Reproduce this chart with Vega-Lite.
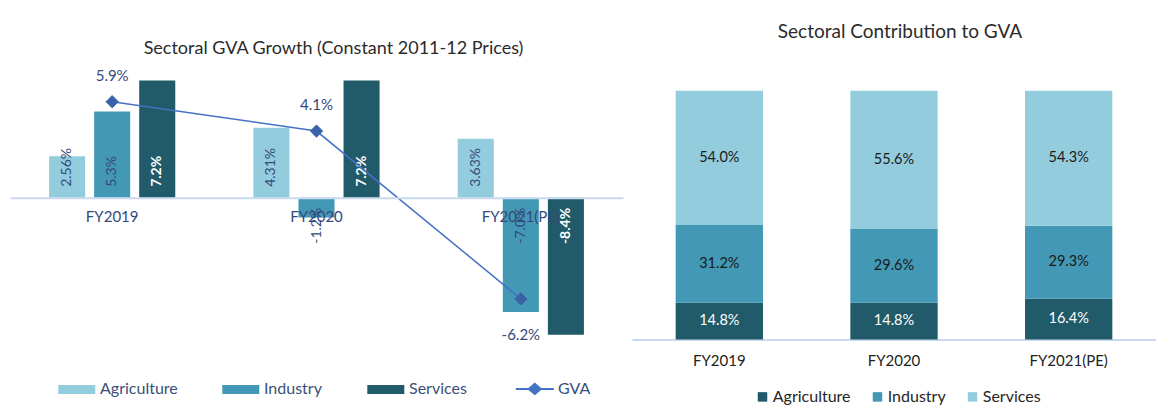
{
  "$schema": "https://vega.github.io/schema/vega-lite/v6.json",
  "padding": {"left": 10, "top": 22.5, "right": 0, "bottom": 0},
  "spacing": 9,
  "config": {
    "font": "Lato",
    "view": {"stroke": null},
    "title": {"font": "Lato", "fontWeight": "normal", "color": "#2b2b2b"}
  },
  "datasets": {
    "growth": [
      {"year": "FY2019", "sector": "Agriculture", "value": 2.56, "label": "2.56%"},
      {"year": "FY2019", "sector": "Industry", "value": 5.3, "label": "5.3%"},
      {"year": "FY2019", "sector": "Services", "value": 7.2, "label": "7.2%"},
      {"year": "FY2020", "sector": "Agriculture", "value": 4.31, "label": "4.31%"},
      {"year": "FY2020", "sector": "Industry", "value": -1.2, "label": "-1.2%"},
      {"year": "FY2020", "sector": "Services", "value": 7.2, "label": "7.2%"},
      {"year": "FY2021(PE)", "sector": "Agriculture", "value": 3.63, "label": "3.63%"},
      {"year": "FY2021(PE)", "sector": "Industry", "value": -7.0, "label": "-7.0%"},
      {"year": "FY2021(PE)", "sector": "Services", "value": -8.4, "label": "-8.4%"}
    ],
    "gva": [
      {"year": "FY2019", "gva": 5.9, "label": "5.9%"},
      {"year": "FY2020", "gva": 4.1, "label": "4.1%"},
      {"year": "FY2021(PE)", "gva": -6.2, "label": "-6.2%"}
    ],
    "share": [
      {"year": "FY2019", "sector": "Agriculture", "share": 14.8, "label": "14.8%"},
      {"year": "FY2019", "sector": "Industry", "share": 31.2, "label": "31.2%"},
      {"year": "FY2019", "sector": "Services", "share": 54.0, "label": "54.0%"},
      {"year": "FY2020", "sector": "Agriculture", "share": 14.8, "label": "14.8%"},
      {"year": "FY2020", "sector": "Industry", "share": 29.6, "label": "29.6%"},
      {"year": "FY2020", "sector": "Services", "share": 55.6, "label": "55.6%"},
      {"year": "FY2021(PE)", "sector": "Agriculture", "share": 16.4, "label": "16.4%"},
      {"year": "FY2021(PE)", "sector": "Industry", "share": 29.3, "label": "29.3%"},
      {"year": "FY2021(PE)", "sector": "Services", "share": 54.3, "label": "54.3%"}
    ]
  },
  "resolve": {
    "scale": {"x": "independent", "y": "independent", "color": "independent"},
    "legend": {"color": "independent"}
  },
  "hconcat": [
    {
      "width": 613,
      "height": 277,
      "title": {
        "text": "Sectoral GVA Growth (Constant 2011-12 Prices)",
        "fontSize": 18,
        "dx": 17,
        "offset": 10
      },
      "encoding": {
        "x": {
          "field": "year",
          "type": "nominal",
          "sort": null,
          "scale": {"paddingInner": 0, "paddingOuter": 0},
          "axis": {
            "title": null,
            "orient": "bottom",
            "offset": -146.65,
            "domainColor": "#C9DAF0",
            "domainWidth": 2,
            "ticks": false,
            "tickSize": 0,
            "labelPadding": 12,
            "labelFontSize": 15,
            "labelColor": "#34497A",
            "labelAngle": 0,
            "zindex": 1
          }
        },
        "y": {"type": "quantitative", "scale": {"domain": [-9, 8], "nice": false, "zero": false}, "axis": null}
      },
      "layer": [
        {
          "data": {"name": "growth"},
          "mark": {"type": "bar"},
          "encoding": {
            "xOffset": {
              "field": "sector",
              "type": "nominal",
              "scale": {"domain": ["Agriculture", "Industry", "Services"], "paddingInner": 0.2, "paddingOuter": 0.867}
            },
            "y": {"field": "value", "type": "quantitative"},
            "color": {
              "field": "sector",
              "type": "nominal",
              "scale": {
                "domain": ["Agriculture", "Industry", "Services", "GVA"],
                "range": ["#93CDDD", "#4398B5", "#215A69", "#4472C4"]
              },
              "legend": {
                "title": null,
                "orient": "none",
                "legendX": 58.8,
                "legendY": 313.4,
                "direction": "horizontal",
                "columns": 4,
                "padding": 0,
                "symbolType": "M-3.7,-0.9H3.7V0.9H-3.7Z",
                "symbolSize": 100,
                "symbolStrokeWidth": 0,
                "labelFont": "Lato",
                "labelFontSize": 16,
                "labelColor": "#3A4F7A",
                "labelOffset": 15.2,
                "columnPadding": 44,
                "encode": {
                  "symbols": {
                    "update": {
                      "shape": {"signal": "datum.value === 'GVA' ? 'M-3.8,0H3.8M-1.2,0L0,-1L1.2,0L0,1Z' : 'M-3.7,-0.9H3.7V0.9H-3.7Z'"},
                      "strokeWidth": {"signal": "datum.value === 'GVA' ? 2 : 0"},
                      "stroke": {"value": "#4472C4"},
                      "fill": {"signal": "datum.value === 'GVA' ? '#3A62A7' : datum.value === 'Agriculture' ? '#93CDDD' : datum.value === 'Industry' ? '#4398B5' : '#215A69'"},
                      "opacity": {"value": 1}
                    }
                  }
                }
              }
            }
          }
        },
        {
          "data": {"name": "growth"},
          "transform": [{"filter": "datum.sector !== 'Services' && datum.value >= 0"}],
          "mark": {"type": "text", "angle": 270, "align": "left", "baseline": "middle", "dx": 11, "fontSize": 14, "color": "#34497A"},
          "encoding": {
            "xOffset": {"field": "sector", "type": "nominal"},
            "y": {"datum": 0, "type": "quantitative"},
            "text": {"field": "label"}
          }
        },
        {
          "data": {"name": "growth"},
          "transform": [{"filter": "datum.sector !== 'Services' && datum.value < 0"}],
          "mark": {"type": "text", "angle": 270, "align": "right", "baseline": "middle", "dx": -10, "fontSize": 14, "color": "#34497A"},
          "encoding": {
            "xOffset": {"field": "sector", "type": "nominal"},
            "y": {"datum": 0, "type": "quantitative"},
            "text": {"field": "label"}
          }
        },
        {
          "data": {"name": "growth"},
          "transform": [{"filter": "datum.sector === 'Services' && datum.value >= 0"}],
          "mark": {"type": "text", "angle": 270, "align": "left", "baseline": "middle", "dx": 11, "fontSize": 14, "fontWeight": "bold", "color": "#ffffff"},
          "encoding": {
            "xOffset": {"field": "sector", "type": "nominal"},
            "y": {"datum": 0, "type": "quantitative"},
            "text": {"field": "label"}
          }
        },
        {
          "data": {"name": "growth"},
          "transform": [{"filter": "datum.sector === 'Services' && datum.value < 0"}],
          "mark": {"type": "text", "angle": 270, "align": "right", "baseline": "middle", "dx": -10, "fontSize": 14, "fontWeight": "bold", "color": "#ffffff"},
          "encoding": {
            "xOffset": {"field": "sector", "type": "nominal"},
            "y": {"datum": 0, "type": "quantitative"},
            "text": {"field": "label"}
          }
        },
        {
          "data": {"name": "gva"},
          "mark": {"type": "line", "strokeWidth": 1.5},
          "encoding": {
            "y": {"field": "gva", "type": "quantitative"},
            "color": {"datum": "GVA", "type": "nominal"}
          }
        },
        {
          "data": {"name": "gva"},
          "mark": {"type": "point", "shape": "diamond", "filled": true, "size": 150, "color": "#3A62A7", "stroke": "#3A62A7", "strokeWidth": 1, "opacity": 1},
          "encoding": {
            "y": {"field": "gva", "type": "quantitative"}
          }
        },
        {
          "data": {"name": "gva"},
          "transform": [{"filter": "datum.gva >= 0"}],
          "mark": {"type": "text", "baseline": "middle", "align": "center", "dy": -26, "fontSize": 15, "color": "#34497A"},
          "encoding": {
            "y": {"field": "gva", "type": "quantitative"},
            "text": {"field": "label"}
          }
        },
        {
          "data": {"name": "gva"},
          "transform": [{"filter": "datum.gva < 0"}],
          "mark": {"type": "text", "baseline": "middle", "align": "center", "dy": 36, "fontSize": 15, "color": "#34497A"},
          "encoding": {
            "y": {"field": "gva", "type": "quantitative"},
            "text": {"field": "label"}
          }
        }
      ]
    },
    {
      "width": 524,
      "height": 272,
      "title": {"text": "Sectoral Contribution to GVA", "fontSize": 19, "dx": 6, "offset": 25.4},
      "data": {"name": "share"},
      "encoding": {
        "x": {
          "field": "year",
          "type": "nominal",
          "sort": null,
          "scale": {"paddingInner": 0.5, "paddingOuter": 0.25},
          "axis": {
            "title": null,
            "domainColor": "#C9DAF0",
            "domainWidth": 2,
            "ticks": false,
            "tickSize": 0,
            "labelPadding": 14,
            "labelFontSize": 15,
            "labelColor": "#222222",
            "labelAngle": 0
          }
        }
      },
      "layer": [
        {
          "mark": {"type": "bar"},
          "encoding": {
            "y": {"field": "share", "type": "quantitative", "stack": "zero", "scale": {"domain": [0, 109.3], "nice": false}, "axis": null},
            "order": {"field": "sector", "sort": "ascending"},
            "color": {
              "field": "sector",
              "type": "nominal",
              "scale": {"domain": ["Agriculture", "Industry", "Services"], "range": ["#215A69", "#4398B5", "#93CDDD"]},
              "legend": {
                "title": null,
                "orient": "none",
                "legendX": 122.5,
                "legendY": 321.4,
                "direction": "horizontal",
                "columns": 3,
                "padding": 0,
                "symbolType": "square",
                "symbolSize": 90,
                "symbolStrokeWidth": 0,
                "labelFont": "Lato",
                "labelFontSize": 16,
                "labelColor": "#262626",
                "labelOffset": 2.25,
                "columnPadding": 18
              }
            }
          }
        },
        {
          "mark": {"type": "text", "baseline": "middle", "align": "center", "fontSize": 14.5},
          "encoding": {
            "y": {"field": "share", "type": "quantitative", "stack": "zero", "bandPosition": 0.5},
            "order": {"field": "sector", "sort": "ascending"},
            "detail": {"field": "sector", "type": "nominal"},
            "text": {"field": "label"},
            "color": {"condition": {"test": "datum.sector === 'Agriculture'", "value": "#ffffff"}, "value": "#1a1a1a"}
          }
        }
      ]
    }
  ]
}
